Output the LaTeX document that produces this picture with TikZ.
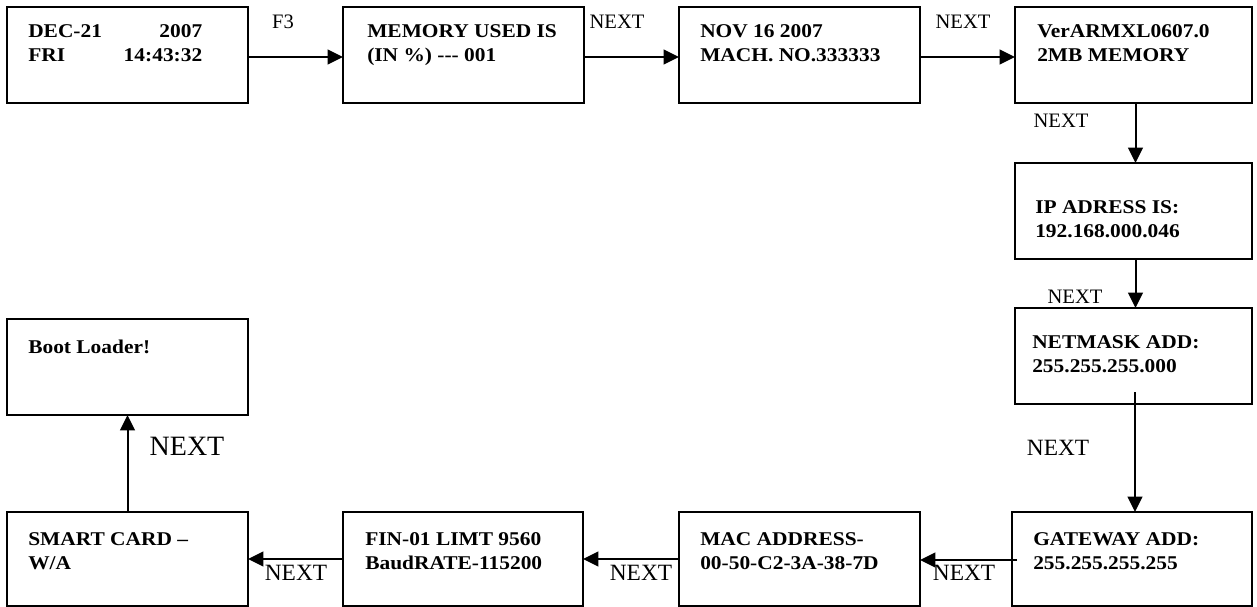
\documentclass[tikz,border=0pt]{standalone}
\usepackage{fontspec}
\setmainfont{Liberation Serif}
\newfontfamily\boxfont{Liberation Serif}[FakeStretch=1.1]
\usetikzlibrary{arrows.meta}
\newcommand\twoln[2]{\begin{tabular}[t]{@{}l@{}}#1\\#2\end{tabular}}
\begin{document}
\begin{tikzpicture}[x=0.75pt,y=-0.75pt,
  box/.style={draw, line width=1.5pt, inner sep=0pt, outer sep=0pt, anchor=north west,
    minimum width=241*0.75pt, minimum height=96*0.75pt},
  btxt/.style={inner sep=0pt, anchor=base west,
    font=\boxfont\bfseries\fontsize{14.6pt}{18pt}\selectfont},
  lbls/.style={inner sep=0pt, font=\fontsize{15.4pt}{18pt}\selectfont},
  lblm/.style={inner sep=0pt, font=\fontsize{17.5pt}{20pt}\selectfont},
  lblb/.style={inner sep=0pt, font=\fontsize{21pt}{24pt}\selectfont},
  arr/.style={line width=1.5pt, -{Triangle[length=11.5pt,width=11pt]}}]
\useasboundingbox (0,0) rectangle (1257,607);
% boxes
\node[box] (b1) at (7,7) {};
\node[box] (b2) at (343,7) {};
\node[box] (b3) at (679,7) {};
\node[box, minimum width=237*0.75pt] (b4) at (1015,7) {};
\node[box, minimum width=237*0.75pt] (ip) at (1015,163) {};
\node[box, minimum width=237*0.75pt] (nm) at (1015,308) {};
\node[box, minimum width=240*0.75pt, minimum height=94*0.75pt] (gw) at (1012,512) {};
\node[box, minimum width=241*0.75pt, minimum height=94*0.75pt] (mac) at (679,512) {};
\node[box, minimum width=240*0.75pt, minimum height=94*0.75pt] (fin) at (343,512) {};
\node[box, minimum width=241*0.75pt, minimum height=94*0.75pt] (sc) at (7,512) {};
\node[box] (bl) at (7,319) {};
% texts
\node[btxt] (t1) at (28,37) {\begin{tabular*}{130.5pt}[t]{@{}l@{\extracolsep{\fill}}r@{}}DEC-21&2007\\FRI&14:43:32\end{tabular*}};
\node[btxt] (t2) at (367,37) {\twoln{MEMORY USED IS}{(IN \%) {-}{-}{-} 001}};
\node[btxt] (t3) at (700,37) {\twoln{NOV 16 2007}{MACH. NO.333333}};
\node[btxt] (t4) at (1037,37) {\twoln{VerARMXL0607.0}{2MB MEMORY}};
\node[btxt] (t5) at (1035,213) {\twoln{IP ADRESS IS:}{192.168.000.046}};
\node[btxt] (t6) at (1032,348) {\twoln{NETMASK ADD:}{255.255.255.000}};
\node[btxt] (t7) at (1033,545) {\twoln{GATEWAY ADD:}{255.255.255.255}};
\node[btxt] (t8) at (700,545) {\twoln{MAC ADDRESS-}{00-50-C2-3A-38-7D}};
\node[btxt] (t9) at (365,545) {\twoln{FIN-01 LIMT 9560}{BaudRATE-115200}};
\node[btxt] (t10) at (28,545) {\twoln{SMART CARD –}{W/A}};
\node[btxt] (t11) at (28,353) {Boot Loader!};
% connectors
\coordinate (nmstart) at (1135,392);
\coordinate (gwstart) at (1017,560);
\draw[arr] ([yshift=-1.5pt]b1.east) -- ([yshift=-1.5pt]b2.west);
\draw[arr] ([yshift=-1.5pt]b2.east) -- ([yshift=-1.5pt]b3.west);
\draw[arr] ([yshift=-1.5pt]b3.east) -- ([yshift=-1.5pt]b4.west);
\draw[arr] ([xshift=1.5pt]b4.south) -- ([xshift=1.5pt]ip.north);
\draw[arr] ([xshift=1.5pt]ip.south) -- ([xshift=1.5pt]nm.north);
\draw[arr] (nmstart) -- (nmstart |- gw.north);
\draw[arr] (gwstart) -- (gwstart -| mac.east);
\draw[arr] (mac.west) -- (fin.east);
\draw[arr] (fin.west) -- (sc.east);
\draw[arr] (sc.north) -- (bl.south);
% labels
\node[lbls] (l1) at (283,22) {F3};
\node[lbls] (l2) at (617,22) {NEXT};
\node[lbls] (l3) at (963,22) {NEXT};
\node[lbls] (l4) at (1061,121) {NEXT};
\node[lbls] (l5) at (1075,297) {NEXT};
\node[lblm] (l6) at (1058,448) {NEXT};
\node[lblm] (l7) at (964,573) {NEXT};
\node[lblm] (l8) at (641,573) {NEXT};
\node[lblm] (l9) at (296,573) {NEXT};
\node[lblb] (l10) at (187,446) {NEXT};
\end{tikzpicture}
\end{document}
